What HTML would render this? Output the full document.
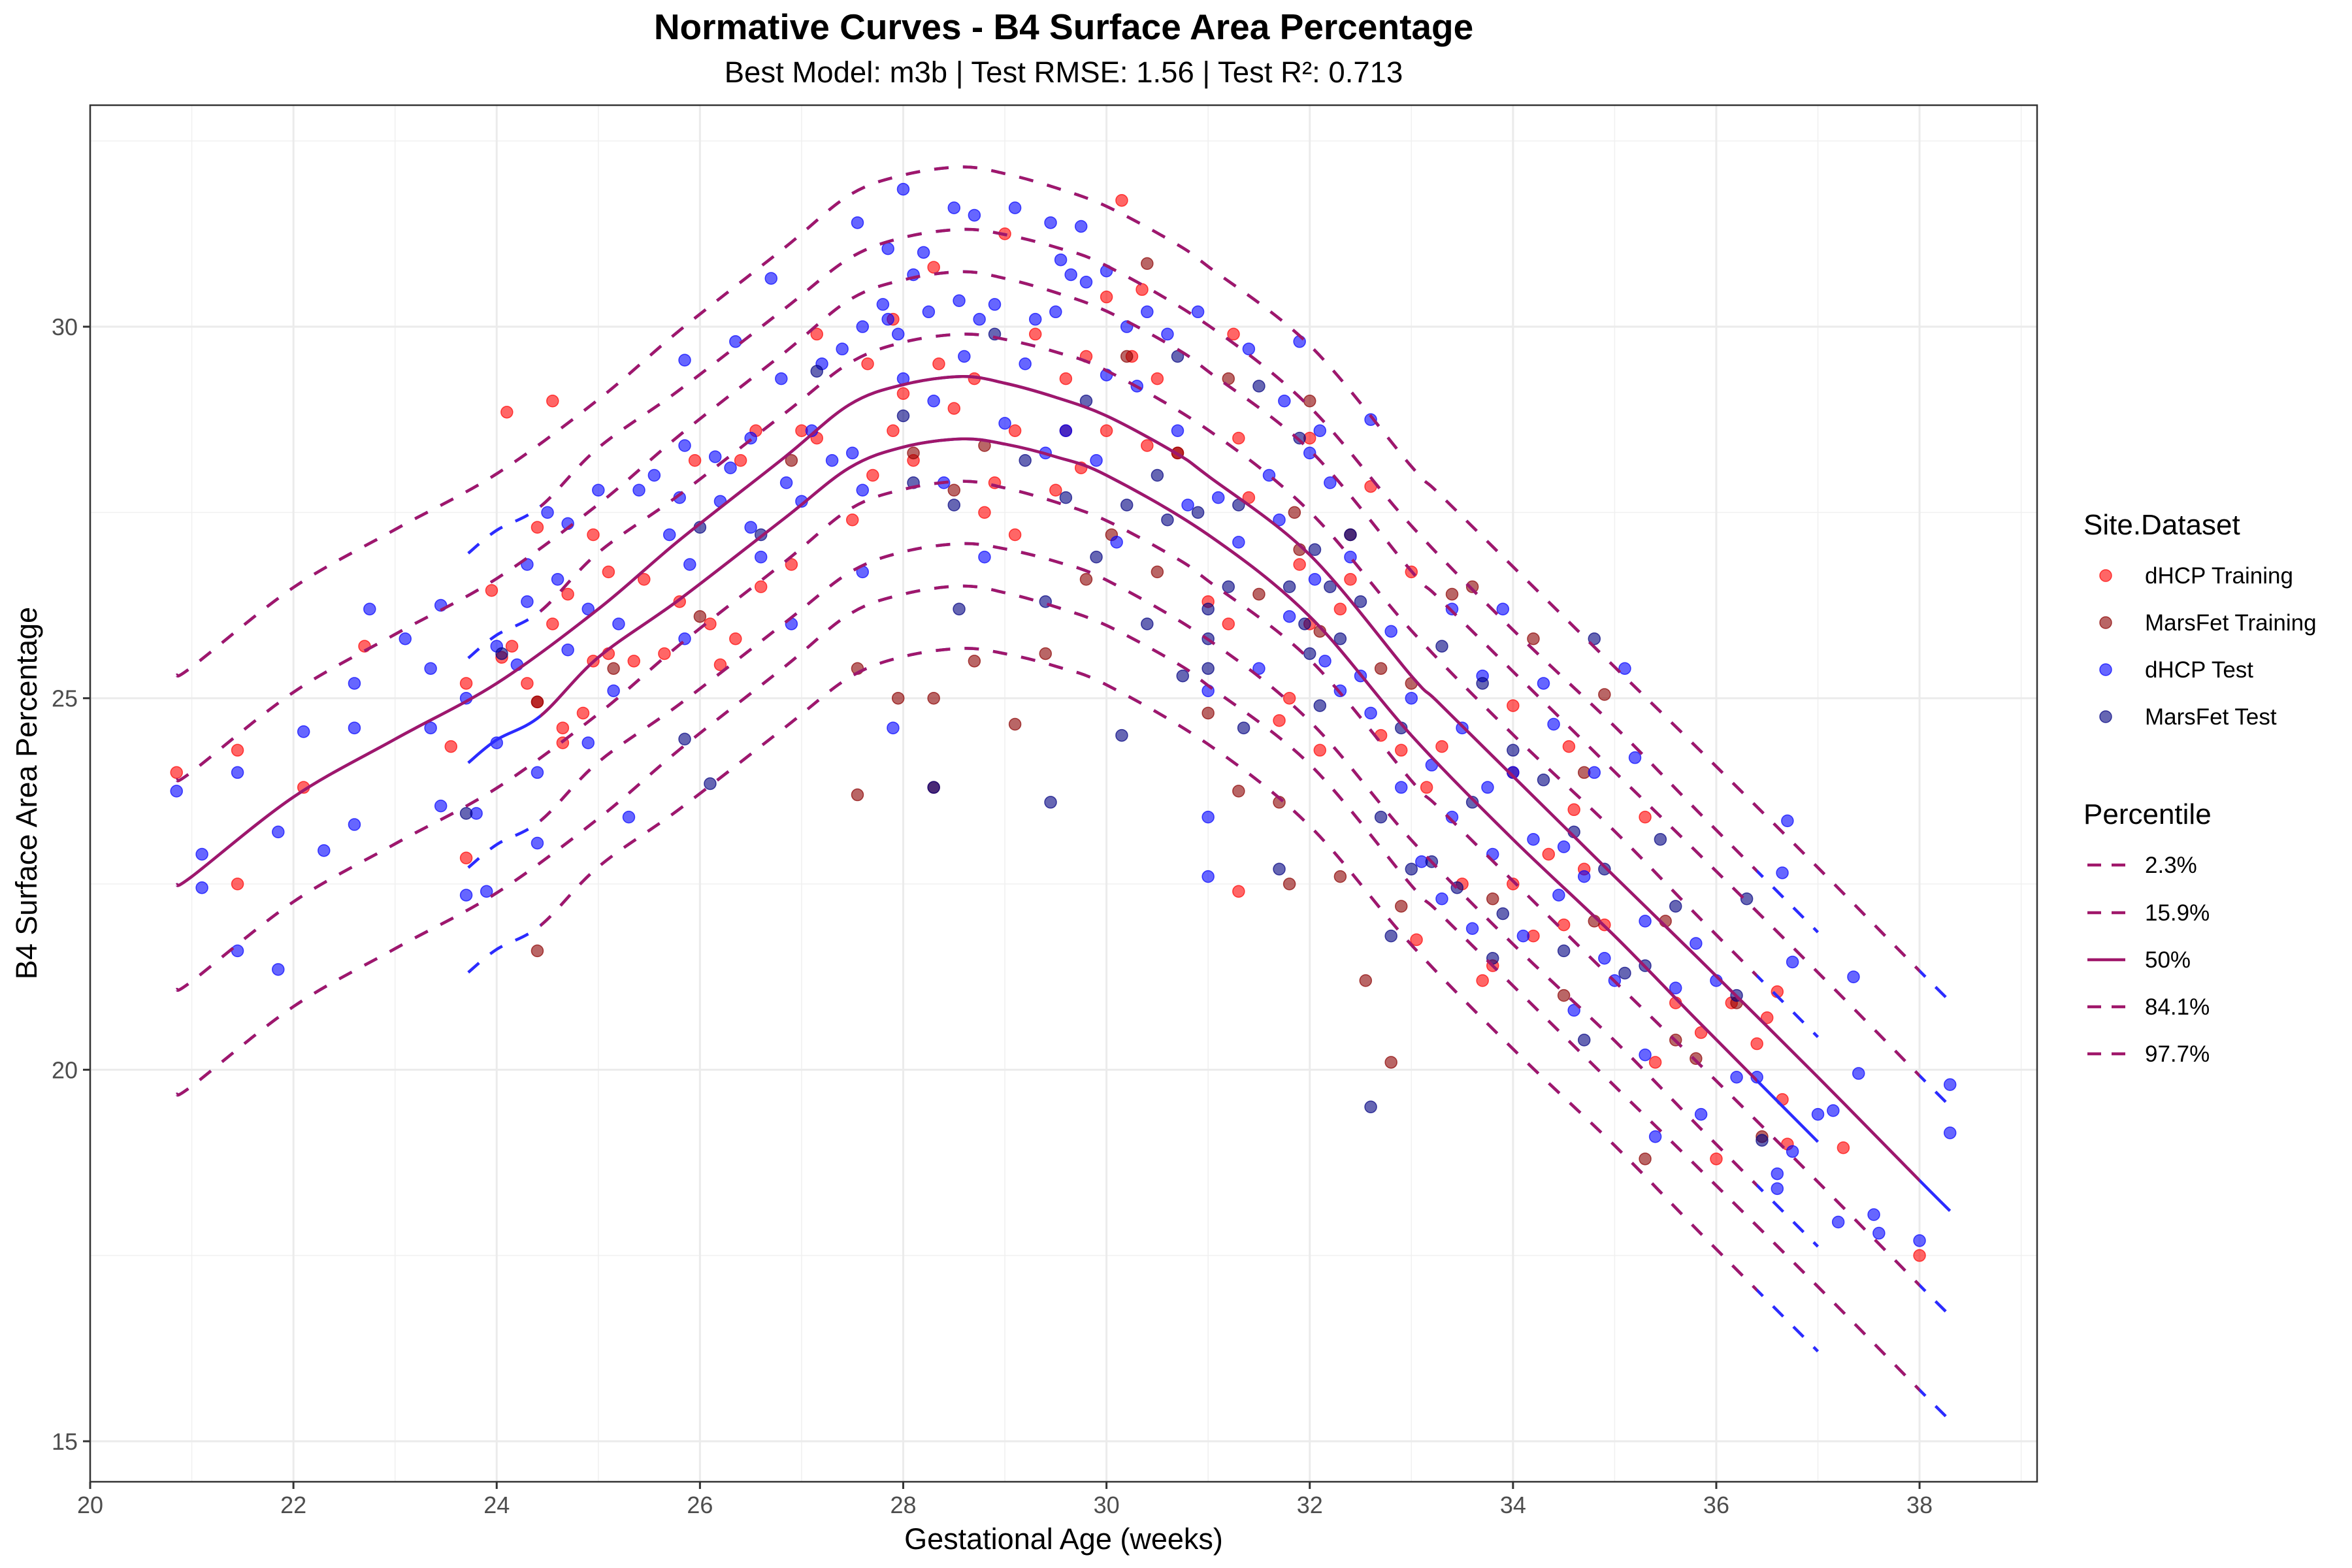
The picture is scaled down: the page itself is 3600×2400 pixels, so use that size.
<!DOCTYPE html>
<html><head><meta charset="utf-8"><style>
html,body{margin:0;padding:0;background:#fff;}
svg{display:block;font-family:"Liberation Sans",Arial,sans-serif;}
</style></head><body>
<svg id="chart" width="3600" height="2400" viewBox="0 0 3600 2400" xmlns="http://www.w3.org/2000/svg">
<defs>
<clipPath id="clipPanel"><rect x="138" y="161" width="2980" height="2107"/></clipPath>
</defs>
<rect x="0" y="0" width="3600" height="2400" fill="#fff"/>
<text x="1628" y="60" text-anchor="middle" font-size="55" font-weight="bold" fill="#000">Normative Curves - B4 Surface Area Percentage</text>
<text x="1628" y="126" text-anchor="middle" font-size="45.5" fill="#000">Best Model: m3b | Test RMSE: 1.56 | Test R²: 0.713</text>
<g id="grid"></g>
<g id="points" clip-path="url(#clipPanel)"></g>
<g id="curves" clip-path="url(#clipPanel)"></g>
<rect x="138" y="161" width="2980" height="2107" fill="none" stroke="#333" stroke-width="2.5"/>
<g id="axes"></g>
<text x="1628" y="2371" text-anchor="middle" font-size="45" fill="#000">Gestational Age (weeks)</text>
<text x="0" y="0" transform="translate(56,1214) rotate(-90)" text-anchor="middle" font-size="45" fill="#000">B4 Surface Area Percentage</text>
<g id="legend">
<text x="3189" y="818" font-size="44" fill="#000">Site.Dataset</text>
<g><circle cx="3223" cy="881" r="9" fill="#ff0000" fill-opacity="0.6" stroke="#ff0000" stroke-opacity="0.7" stroke-width="1.5"/><text x="3283" y="893" font-size="35">dHCP Training</text></g>
<g><circle cx="3223" cy="953" r="9" fill="#8b0000" fill-opacity="0.6" stroke="#8b0000" stroke-opacity="0.7" stroke-width="1.5"/><text x="3283" y="965" font-size="35">MarsFet Training</text></g>
<g><circle cx="3223" cy="1025" r="9" fill="#0000ff" fill-opacity="0.6" stroke="#0000ff" stroke-opacity="0.7" stroke-width="1.5"/><text x="3283" y="1037" font-size="35">dHCP Test</text></g>
<g><circle cx="3223" cy="1097" r="9" fill="#000080" fill-opacity="0.6" stroke="#000080" stroke-opacity="0.7" stroke-width="1.5"/><text x="3283" y="1109" font-size="35">MarsFet Test</text></g>
<text x="3189" y="1261" font-size="44" fill="#000">Percentile</text>
<g><line x1="3195" y1="1324" x2="3253" y2="1324" stroke="#a0176a" stroke-width="4.5" stroke-dasharray="21,16"/><text x="3283" y="1336" font-size="35">2.3%</text></g>
<g><line x1="3195" y1="1397" x2="3253" y2="1397" stroke="#a0176a" stroke-width="4.5" stroke-dasharray="21,16"/><text x="3283" y="1409" font-size="35">15.9%</text></g>
<g><line x1="3195" y1="1469" x2="3253" y2="1469" stroke="#a0176a" stroke-width="4.5"/><text x="3283" y="1481" font-size="35">50%</text></g>
<g><line x1="3195" y1="1541" x2="3253" y2="1541" stroke="#a0176a" stroke-width="4.5" stroke-dasharray="21,16"/><text x="3283" y="1553" font-size="35">84.1%</text></g>
<g><line x1="3195" y1="1613" x2="3253" y2="1613" stroke="#a0176a" stroke-width="4.5" stroke-dasharray="21,16"/><text x="3283" y="1625" font-size="35">97.7%</text></g>
</g>
</svg>
<script>
// ---- data ----
const xTicks = [20,22,24,26,28,30,32,34,36,38];
const yTicks = [15,20,25,30];
const zScores = [-2,-1,0,1,2];
const sigma = 1.41;
const ageA = [20.85,21,22,23,24,25,25.8,26.83,27.47,28,28.58,29,29.5,30,30.68,31,32,33,33.26,34,35,35.83,37,38,38.3];
const medA = [22.49,22.6,23.67,24.45,25.2,26.2,27.13,28.24,28.95,29.22,29.33,29.24,29.05,28.8,28.3,27.99,26.93,25.3,24.95,23.95,22.6,21.49,19.9,18.51,18.1];
const ageB = [23.72,24,24.43,25,25.8,26.83,27.47,28,28.58,29,29.5,30,31,32,33,34,35,35.83,37];
const medB = [24.13,24.44,24.76,25.55,26.33,27.42,28.1,28.38,28.49,28.42,28.25,28.0,27.2,26.1,24.5,23.1,21.8,20.64,19.03];
const dhcpTrain = [[20.85,24.0],[21.45,24.3],[21.45,22.5],[22.1,23.8],[22.7,25.7],[23.55,24.35],[23.7,22.85],[23.7,25.2],[23.95,26.45],[24.05,25.55],[24.1,28.85],[24.15,25.7],[24.3,25.2],[24.4,27.3],[24.4,24.95],[24.55,29.0],[24.55,26.0],[24.65,24.6],[24.65,24.4],[24.7,26.4],[24.95,27.2],[24.95,25.5],[24.85,24.8],[25.1,25.6],[25.1,26.7],[25.35,25.5],[25.45,26.6],[25.65,25.6],[25.8,26.3],[25.95,28.2],[26.1,26.0],[26.2,25.45],[26.35,25.8],[26.4,28.2],[26.55,28.6],[26.6,26.5],[26.9,26.8],[27.0,28.6],[27.15,28.5],[27.15,29.9],[27.5,27.4],[27.65,29.5],[27.7,28.0],[27.9,30.1],[27.9,28.6],[28.0,29.1],[28.1,28.2],[28.3,30.8],[28.35,29.5],[28.5,28.9],[28.7,29.3],[28.8,27.5],[28.9,27.9],[29.0,31.25],[29.1,27.2],[29.1,28.6],[29.3,29.9],[29.5,27.8],[29.6,29.3],[29.75,28.1],[29.8,29.6],[30.0,30.4],[30.0,28.6],[30.15,31.7],[30.25,29.6],[30.35,30.5],[30.4,28.4],[30.5,29.3],[30.7,28.3],[31.0,26.3],[31.2,26.0],[31.25,29.9],[31.3,28.5],[31.3,22.4],[31.4,27.7],[31.7,24.7],[31.8,25.0],[31.9,26.8],[32.0,28.5],[32.0,26.0],[32.1,24.3],[32.3,26.2],[32.4,26.6],[32.6,27.85],[32.7,24.5],[32.9,24.3],[33.0,26.7],[33.05,21.75],[33.15,23.8],[33.3,24.35],[33.5,22.5],[33.7,21.2],[33.8,21.4],[34.0,24.9],[34.0,22.5],[34.2,21.8],[34.35,22.9],[34.5,21.95],[34.55,24.35],[34.6,23.5],[34.7,22.7],[34.9,21.95],[35.3,23.4],[35.4,20.1],[35.6,20.9],[35.85,20.5],[36.0,18.8],[36.15,20.9],[36.4,20.35],[36.5,20.7],[36.6,21.05],[36.65,19.6],[36.7,19.0],[37.25,18.95],[38.0,17.5]];
const marsTrain = [[24.4,24.95],[24.4,21.6],[25.15,25.4],[26.0,26.1],[26.9,28.2],[27.55,25.4],[27.55,23.7],[27.95,25.0],[28.1,28.3],[28.3,25.0],[28.3,23.8],[28.5,27.8],[28.7,25.5],[28.8,28.4],[29.1,24.65],[29.4,25.6],[29.6,28.6],[29.8,26.6],[30.05,27.2],[30.2,29.6],[30.4,30.85],[30.5,26.7],[30.7,28.3],[31.0,24.8],[31.2,29.3],[31.3,23.75],[31.5,26.4],[31.7,23.6],[31.8,22.5],[31.85,27.5],[31.9,27.0],[32.0,29.0],[32.1,25.9],[32.3,22.6],[32.4,27.2],[32.55,21.2],[32.7,25.4],[32.8,20.1],[32.9,22.2],[33.0,25.2],[33.4,26.4],[33.6,26.5],[33.8,22.3],[34.0,24.0],[34.2,25.8],[34.5,21.0],[34.7,24.0],[34.8,22.0],[34.9,25.05],[35.3,18.8],[35.5,22.0],[35.6,20.4],[35.8,20.15],[36.2,20.9],[36.45,19.1]];
const dhcpTest = [[20.85,23.75],[21.1,22.9],[21.1,22.45],[21.45,24.0],[21.45,21.6],[21.85,21.35],[21.85,23.2],[22.1,24.55],[22.3,22.95],[22.6,24.6],[22.6,25.2],[22.6,23.3],[22.75,26.2],[23.1,25.8],[23.35,24.6],[23.35,25.4],[23.45,26.25],[23.45,23.55],[23.7,25.0],[23.7,22.35],[23.8,23.45],[23.9,22.4],[24.0,24.4],[24.0,25.7],[24.2,25.45],[24.3,26.8],[24.3,26.3],[24.4,24.0],[24.4,23.05],[24.5,27.5],[24.6,26.6],[24.7,27.35],[24.7,25.65],[24.9,24.4],[24.9,26.2],[25.0,27.8],[25.15,25.1],[25.2,26.0],[25.3,23.4],[25.4,27.8],[25.55,28.0],[25.7,27.2],[25.8,27.7],[25.85,29.55],[25.85,28.4],[25.85,25.8],[25.9,26.8],[26.15,28.25],[26.2,27.65],[26.3,28.1],[26.35,29.8],[26.5,28.5],[26.5,27.3],[26.6,26.9],[26.7,30.65],[26.8,29.3],[26.85,27.9],[26.9,26.0],[27.0,27.65],[27.1,28.6],[27.2,29.5],[27.3,28.2],[27.4,29.7],[27.5,28.3],[27.55,31.4],[27.6,30.0],[27.6,27.8],[27.6,26.7],[27.8,30.3],[27.85,30.1],[27.85,31.05],[27.9,24.6],[27.95,29.9],[28.0,29.3],[28.0,31.85],[28.1,30.7],[28.2,31.0],[28.25,30.2],[28.3,29.0],[28.4,27.9],[28.5,31.6],[28.55,30.35],[28.6,29.6],[28.7,31.5],[28.75,30.1],[28.8,26.9],[28.9,30.3],[29.0,28.7],[29.1,31.6],[29.2,29.5],[29.3,30.1],[29.4,28.3],[29.45,31.4],[29.5,30.2],[29.55,30.9],[29.6,28.6],[29.65,30.7],[29.75,31.35],[29.8,30.6],[29.9,28.2],[30.0,30.75],[30.0,29.35],[30.1,27.1],[30.2,30.0],[30.3,29.2],[30.4,30.2],[30.6,29.9],[30.7,28.6],[30.8,27.6],[30.9,30.2],[31.0,25.1],[31.0,22.6],[31.0,23.4],[31.1,27.7],[31.3,27.1],[31.4,29.7],[31.5,25.4],[31.6,28.0],[31.7,27.4],[31.75,29.0],[31.8,26.1],[31.9,29.8],[32.0,28.3],[32.05,26.6],[32.1,28.6],[32.15,25.5],[32.2,27.9],[32.3,25.1],[32.4,26.9],[32.5,25.3],[32.6,28.75],[32.6,24.8],[32.8,25.9],[32.9,23.8],[33.0,25.0],[33.1,22.8],[33.2,24.1],[33.3,22.3],[33.4,26.2],[33.4,23.4],[33.5,24.6],[33.6,21.9],[33.7,25.3],[33.75,23.8],[33.8,22.9],[33.9,26.2],[34.0,24.0],[34.1,21.8],[34.2,23.1],[34.3,25.2],[34.4,24.65],[34.45,22.35],[34.5,23.0],[34.6,20.8],[34.7,22.6],[34.8,24.0],[34.9,21.5],[35.0,21.2],[35.1,25.4],[35.2,24.2],[35.3,20.2],[35.3,22.0],[35.4,19.1],[35.6,21.1],[35.8,21.7],[35.85,19.4],[36.0,21.2],[36.2,19.9],[36.4,19.9],[36.6,18.4],[36.6,18.6],[36.65,22.65],[36.7,23.35],[36.75,18.9],[36.75,21.45],[37.0,19.4],[37.15,19.45],[37.2,17.95],[37.35,21.25],[37.4,19.95],[37.55,18.05],[37.6,17.8],[38.0,17.7],[38.3,19.8],[38.3,19.15]];
const marsTest = [[23.7,23.45],[24.05,25.6],[25.85,24.45],[26.1,23.85],[26.0,27.3],[26.6,27.2],[27.15,29.4],[28.0,28.8],[28.1,27.9],[28.3,23.8],[28.5,27.6],[28.55,26.2],[28.9,29.9],[29.2,28.2],[29.4,26.3],[29.45,23.6],[29.6,27.7],[29.8,29.0],[29.9,26.9],[30.15,24.5],[30.2,27.6],[30.4,26.0],[30.5,28.0],[30.6,27.4],[30.7,29.6],[30.75,25.3],[30.9,27.5],[31.0,26.2],[31.0,25.8],[31.0,25.4],[31.2,26.5],[31.3,27.6],[31.35,24.6],[31.5,29.2],[31.7,22.7],[31.8,26.5],[31.9,28.5],[31.95,26.0],[32.0,25.6],[32.05,27.0],[32.1,24.9],[32.2,26.5],[32.3,25.8],[32.4,27.2],[32.5,26.3],[32.6,19.5],[32.7,23.4],[32.8,21.8],[32.9,24.6],[33.0,22.7],[33.2,22.8],[33.3,25.7],[33.45,22.45],[33.6,23.6],[33.7,25.2],[33.8,21.5],[33.9,22.1],[34.0,24.3],[34.3,23.9],[34.5,21.6],[34.6,23.2],[34.7,20.4],[34.8,25.8],[34.9,22.7],[35.1,21.3],[35.3,21.4],[35.45,23.1],[35.6,22.2],[36.2,21.0],[36.3,22.3],[36.45,19.05]];

// ---- scales ----
const X0 = 138, X1 = 3118, Y0 = 161, Y1 = 2268;
const pxPerWeek = 155.56, pxPerUnit = 113.73;
function sx(w){ return X0 + (w - 20) * pxPerWeek; }
function sy(v){ return 2206 - (v - 15) * pxPerUnit; }
const NS = "http://www.w3.org/2000/svg";
function mk(tag, attrs, parent){ const e = document.createElementNS(NS, tag); for (const k in attrs) e.setAttribute(k, attrs[k]); parent.appendChild(e); return e; }

// grid
const grid = document.getElementById('grid');
for (let w = 21; w <= 39; w += 2) {
  const l = mk('line', {x1:sx(w), x2:sx(w), y1:Y0, y2:Y1, stroke:'#f0f0f0', 'stroke-width':1.5}, grid);
  
  
}
[17.5,22.5,27.5,32.5].forEach(v => {
  const l = mk('line', {x1:X0, x2:X1, y1:sy(v), y2:sy(v), stroke:'#f0f0f0', 'stroke-width':1.5}, grid);
  
  
});
xTicks.forEach(w => {
  const l = mk('line', {x1:sx(w), x2:sx(w), y1:Y0, y2:Y1, stroke:'#ebebeb', 'stroke-width':3}, grid);
  
  
});
yTicks.forEach(v => {
  const l = mk('line', {x1:X0, x2:X1, y1:sy(v), y2:sy(v), stroke:'#ebebeb', 'stroke-width':3}, grid);
  
  
});

// axes
const axes = document.getElementById('axes');
xTicks.forEach(w => {
  const t = mk('line', {x1:sx(w), x2:sx(w), y1:Y1, y2:Y1+11, stroke:'#333', 'stroke-width':3}, axes);
  
  
  const tx = mk('text', {x:sx(w), y:2316, 'text-anchor':'middle', 'font-size':36, fill:'#4d4d4d'}, axes);
  tx.textContent = String(w);
  
  
});
yTicks.forEach(v => {
  const t = mk('line', {x1:X0-11, x2:X0, y1:sy(v), y2:sy(v), stroke:'#333', 'stroke-width':3}, axes);
  
  
  const tx = mk('text', {x:X0-19, y:sy(v)+13, 'text-anchor':'end', 'font-size':36, fill:'#4d4d4d'}, axes);
  tx.textContent = String(v);
  
  
});

// points
const pg = document.getElementById('points');
function drawPts(arr, color, name){
  arr.forEach(p => {
    const c = mk('circle', {cx:sx(p[0]), cy:sy(p[1]), r:9, fill:color, 'fill-opacity':0.6, stroke:color, 'stroke-opacity':0.7, 'stroke-width':1.5}, pg);
    
    
  });
}
drawPts(dhcpTrain, '#ff0000', 'point-dhcp-training');
drawPts(marsTrain, '#8b0000', 'point-marsfet-training');
drawPts(dhcpTest, '#0000ff', 'point-dhcp-test');
drawPts(marsTest, '#000080', 'point-marsfet-test');

// curves
const cg = document.getElementById('curves');
const defs = document.querySelector('defs');
function addClip(id, a, b){
  const cp = mk('clipPath', {id:id}, defs);
  mk('rect', {x:sx(a), y:0, width:sx(b)-sx(a), height:2400}, cp);
}
addClip('clipA', 19, 38.0);
addClip('clipB', 24.43, 36.4);
function pathFor(ages, med, z){
  const P = ages.map((a,i) => [sx(a), sy(med[i] + z*sigma)]);
  let d = 'M' + P[0][0].toFixed(1) + ',' + P[0][1].toFixed(1);
  for (let i = 0; i < P.length - 1; i++) {
    const p0 = P[Math.max(0,i-1)], p1 = P[i], p2 = P[i+1], p3 = P[Math.min(P.length-1,i+2)];
    const c1x = p1[0] + (p2[0]-p0[0])/6, c1y = p1[1] + (p2[1]-p0[1])/6;
    const c2x = p2[0] - (p3[0]-p1[0])/6, c2y = p2[1] - (p3[1]-p1[1])/6;
    d += ' C' + c1x.toFixed(1) + ',' + c1y.toFixed(1) + ' ' + c2x.toFixed(1) + ',' + c2y.toFixed(1) + ' ' + p2[0].toFixed(1) + ',' + p2[1].toFixed(1);
  }
  return d;
}
const names = {'-2':'p2-3','-1':'p15-9','0':'p50','1':'p84-1','2':'p97-7'};
function drawSet(ages, med, clipId, setName){
  zScores.forEach(z => {
    const d = pathFor(ages, med, z);
    const dash = z === 0 ? 'none' : '22,22';
    const b = mk('path', {d:d, fill:'none', stroke:'#2b2bff', 'stroke-width':4.5, 'stroke-dasharray':dash}, cg);
    
    
    const g = mk('g', {'clip-path':'url(#' + clipId + ')'}, cg);
    const p = mk('path', {d:d, fill:'none', stroke:'#a0176a', 'stroke-width':4.5, 'stroke-dasharray':dash}, g);
    
    
  });
}
drawSet(ageA, medA, 'clipA', 'all');
drawSet(ageB, medB, 'clipB', 'test');
</script>
</body></html>
